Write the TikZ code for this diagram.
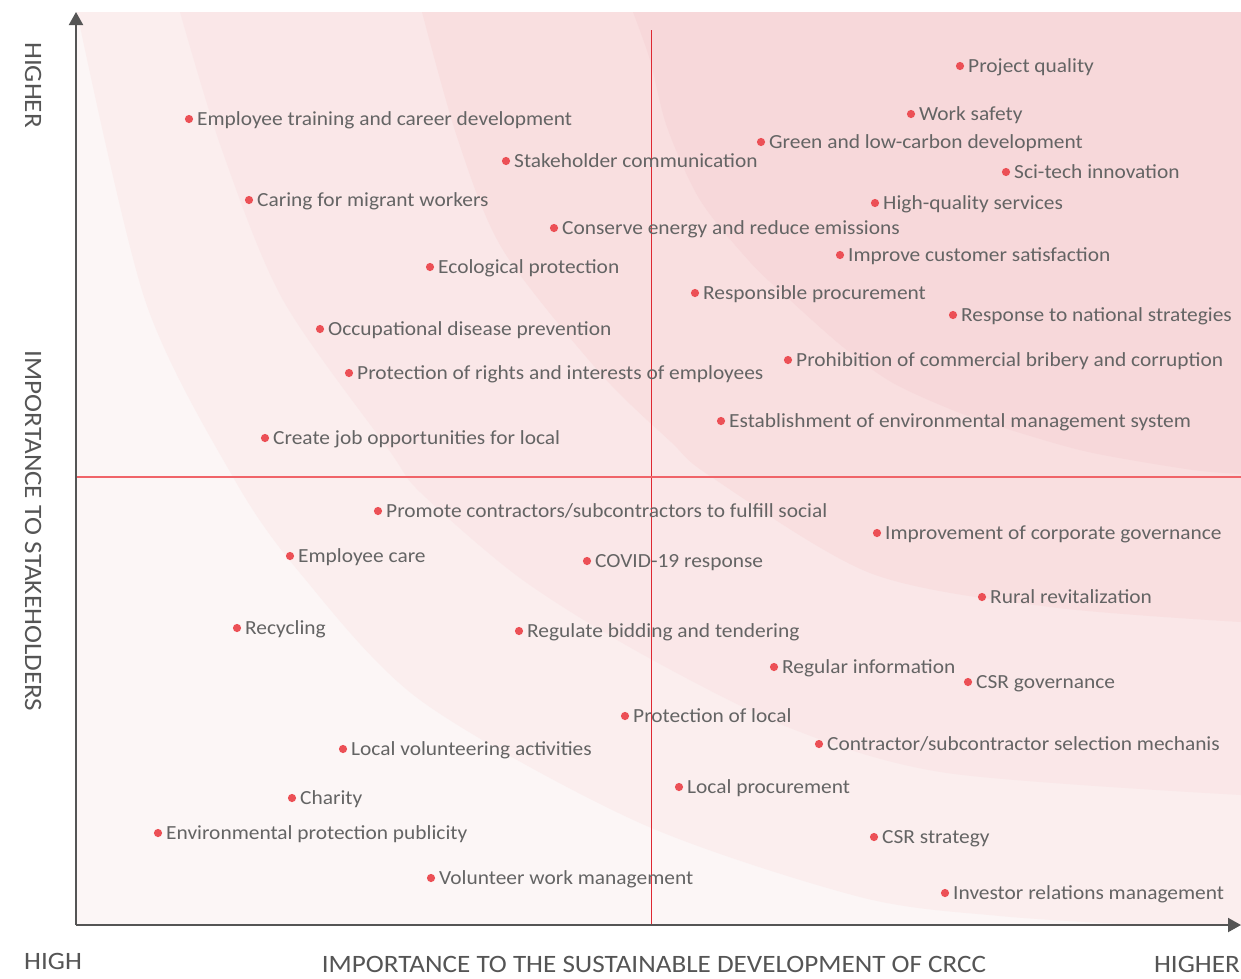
\documentclass[tikz,border=0pt]{standalone}
\usepackage{fontspec}
\setmainfont{Carlito}
\usetikzlibrary{arrows.meta}
\definecolor{bandA}{RGB}{252,246,246}
\definecolor{bandB}{RGB}{251,238,238}
\definecolor{bandC}{RGB}{250,231,232}
\definecolor{bandD}{RGB}{249,223,224}
\definecolor{bandE}{RGB}{247,216,218}
\definecolor{dotred}{RGB}{236,80,86}
\definecolor{txtgray}{RGB}{100,100,100}
\definecolor{axisgray}{RGB}{85,85,85}
\definecolor{vred}{RGB}{222,40,50}
\definecolor{hred}{RGB}{240,100,105}
\tikzset{
  mdot/.style={circle,fill=dotred,inner sep=0pt,minimum size=8.2pt},
  mlbl/.style={anchor=base west,inner sep=0pt,text=txtgray,font=\fontsize{20}{22}\selectfont},
  axislbl/.style={text=axisgray,inner sep=0pt,font=\fontsize{25}{28}\selectfont},
  axisline/.style={draw=axisgray,line width=2pt,-{Triangle[length=13pt,width=14pt]}},
}
\newcommand{\mtopic}[4]{\node[mdot] (d#1) at (#2,#3) {}; \node[mlbl] (t#1) at ([xshift=8pt,yshift=-6.5pt]d#1.center) {\scalebox{1.07}[1]{#4}};}
\newcommand{\axtext}[1]{\scalebox{1.085}[1]{#1}}
\begin{document}
\begin{tikzpicture}[x=1pt,y=-1pt]
\useasboundingbox (0,0) rectangle (1241,978);
\fill[white] (0,0) rectangle (1241,978);
\begin{scope}
  \clip (76,12) rectangle (1241,925);
  \fill[bandA] (76,12) rectangle (1241,925);
  \fill[bandB] plot[smooth] coordinates {(77,12) (145,300) (233,477) (300,573) (420,700) (640,823) (860,897) (1000,916) (1140,925)} -- (1250,930) -- (1250,5) -- cycle;
  \fill[bandC] plot[smooth] coordinates {(180,12) (222,150) (283,300) (389,450) (420,492) (520,578) (640,653) (790,728) (947,773) (1241,795)} -- (1250,797) -- (1250,5) -- cycle;
  \fill[bandD] plot[smooth] coordinates {(422,12) (458,140) (503,250) (600,373) (671,442) (710,476) (870,573) (1050,607) (1241,622)} -- (1250,624) -- (1250,5) -- cycle;
  \fill[bandE] plot[smooth] coordinates {(633,12) (650,60) (667,127) (700,200) (750,262) (790,300) (843,347) (893,383) (960,413) (1027,435) (1093,453) (1193,470) (1245,474)} -- (1250,474) -- (1250,5) -- cycle;
\end{scope}
% quadrant lines
\coordinate (vtop) at (651,30);
\coordinate (vbot) at (651,925);
\coordinate (hl) at (76,477);
\coordinate (hr) at (1241,477);
\draw[vred,line width=1pt] (vtop) -- (vbot);
\draw[hred,line width=1.4pt] (hl) -- (hr);
% axes
\coordinate (org) at (76,925);
\coordinate (ytip) at (76,12);
\coordinate (xtip) at (1241,925);
\draw[axisline] (org) -- (ytip);
\draw[axisline] (org) -- (xtip);
% axis labels
\node[axislbl,anchor=base west] (lhigh) at (24,969) {\axtext{HIGH}};
\node[axislbl,anchor=base] (lxmain) at (654,972) {\axtext{IMPORTANCE TO THE SUSTAINABLE DEVELOPMENT OF CRCC}};
\node[axislbl,anchor=base east] (lxhigher) at (1240,972) {\axtext{HIGHER}};
\node[axislbl,anchor=base west,rotate=-90] (lyhigher) at (25,42) {\axtext{HIGHER}};
\node[axislbl,anchor=base,rotate=-90] (lymain) at (25,531) {\axtext{IMPORTANCE TO STAKEHOLDERS}};
% topics
\mtopic{1}{189}{119}{Employee training and career development}
\mtopic{2}{506}{161}{Stakeholder communication}
\mtopic{3}{249}{200}{Caring for migrant workers}
\mtopic{4}{554}{228}{Conserve energy and reduce emissions}
\mtopic{5}{430}{267}{Ecological protection}
\mtopic{6}{320}{329}{Occupational disease prevention}
\mtopic{7}{349}{373}{Protection of rights and interests of employees}
\mtopic{8}{265}{438}{Create job opportunities for local}
\mtopic{9}{960}{66}{Project quality}
\mtopic{10}{911}{114}{Work safety}
\mtopic{11}{761}{142}{Green and low-carbon development}
\mtopic{12}{1006}{172}{Sci-tech innovation}
\mtopic{13}{875}{203}{High-quality services}
\mtopic{14}{840}{255}{Improve customer satisfaction}
\mtopic{15}{695}{293}{Responsible procurement}
\mtopic{16}{953}{315}{Response to national strategies}
\mtopic{17}{788}{360}{Prohibition of commercial bribery and corruption}
\mtopic{18}{721}{421}{Establishment of environmental management system}
\mtopic{19}{378}{511}{Promote contractors/subcontractors to fulfill social}
\mtopic{20}{877}{533}{Improvement of corporate governance}
\mtopic{21}{290}{556}{Employee care}
\mtopic{22}{587}{561}{COVID-19 response}
\mtopic{23}{982}{597}{Rural revitalization}
\mtopic{24}{237}{628}{Recycling}
\mtopic{25}{519}{631}{Regulate bidding and tendering}
\mtopic{26}{774}{667}{Regular information}
\mtopic{27}{968}{682}{CSR governance}
\mtopic{28}{625}{716}{Protection of local}
\mtopic{29}{343}{749}{Local volunteering activities}
\mtopic{30}{819}{744}{Contractor/subcontractor selection mechanis}
\mtopic{31}{292}{798}{Charity}
\mtopic{32}{679}{787}{Local procurement}
\mtopic{33}{158}{833}{Environmental protection publicity}
\mtopic{34}{874}{837}{CSR strategy}
\mtopic{35}{431}{878}{Volunteer work management}
\mtopic{36}{945}{893}{Investor relations management}
\end{tikzpicture}
\end{document}
